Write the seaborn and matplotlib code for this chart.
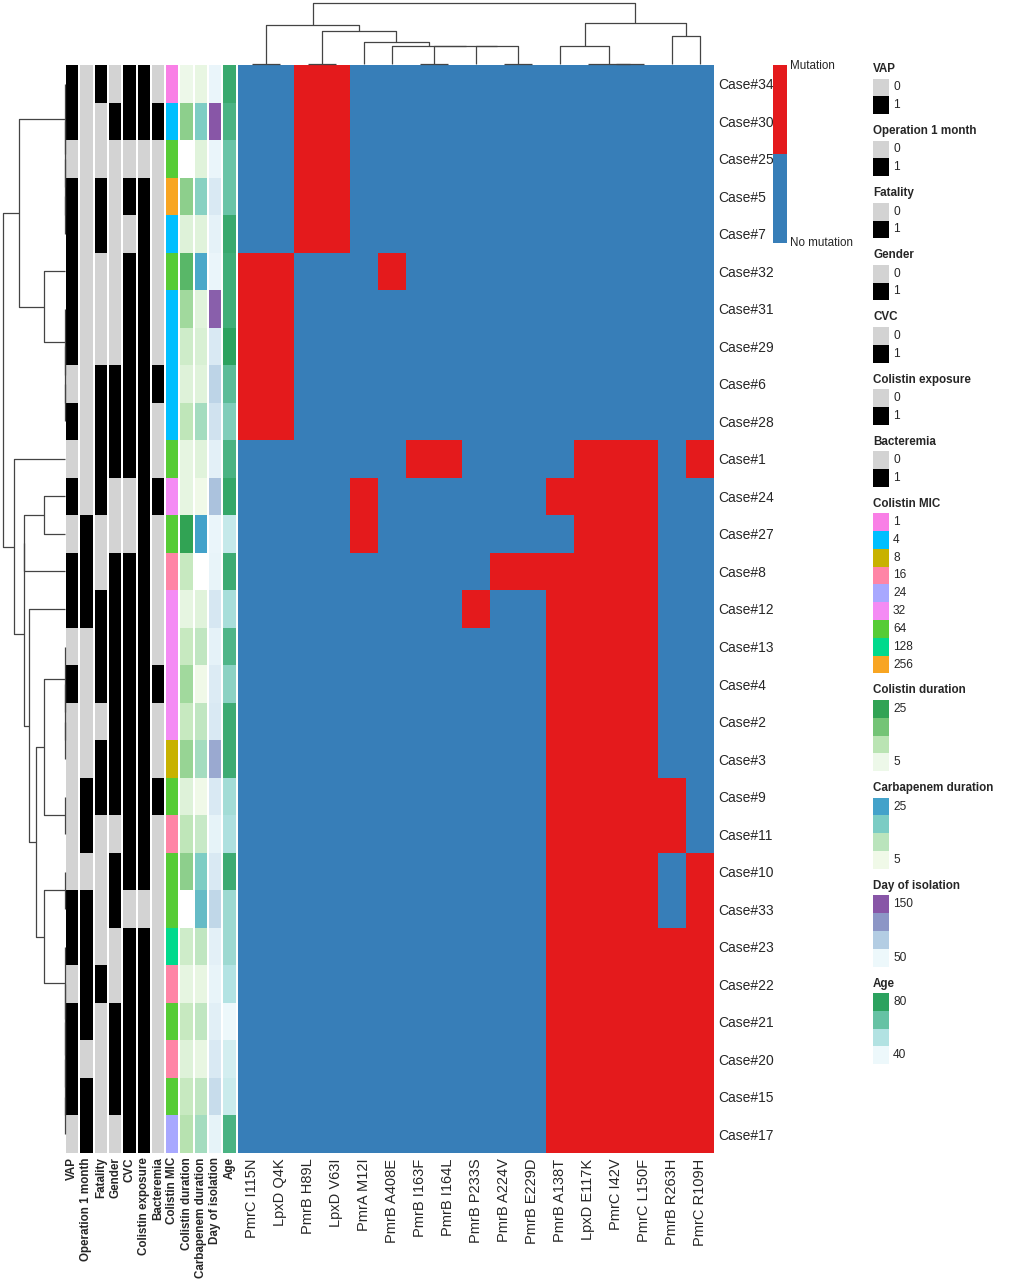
import numpy as np
import pandas as pd
import matplotlib
matplotlib.use("Agg")
import matplotlib.pyplot as plt
import seaborn as sns
from matplotlib.colors import ListedColormap, LinearSegmentedColormap
from matplotlib.patches import Rectangle

# ---------------- data ----------------
cases = ["Case#34", "Case#30", "Case#25", "Case#5", "Case#7", "Case#32", "Case#31",
         "Case#29", "Case#6", "Case#28", "Case#1", "Case#24", "Case#27", "Case#8",
         "Case#12", "Case#13", "Case#4", "Case#2", "Case#3", "Case#9", "Case#11",
         "Case#10", "Case#33", "Case#23", "Case#22", "Case#21", "Case#20", "Case#15",
         "Case#17"]
mutations = ["PmrC I115N", "LpxD Q4K", "PmrB H89L", "LpxD V63I", "PmrA M12I",
             "PmrB A408E", "PmrB I163F", "PmrB I164L", "PmrB P233S", "PmrB A224V",
             "PmrB E229D", "PmrB A138T", "LpxD E117K", "PmrC I42V", "PmrC L150F",
             "PmrB R263H", "PmrC R109H"]
# 1 = mutation, 0 = no mutation (one string per case, one char per mutation)
mutation_rows = [
    "00110000000000000", "00110000000000000", "00110000000000000",
    "00110000000000000", "00110000000000000",
    "11000100000000000",
    "11000000000000000", "11000000000000000", "11000000000000000", "11000000000000000",
    "00000011000011101",
    "00001000000111100",
    "00001000000011100",
    "00000000011111100",
    "00000000100111100",
    "00000000000111100", "00000000000111100", "00000000000111100", "00000000000111100",
    "00000000000111110", "00000000000111110",
    "00000000000111101", "00000000000111101",
    "00000000000111111", "00000000000111111", "00000000000111111",
    "00000000000111111", "00000000000111111", "00000000000111111",
]

vap = [1, 1, 0, 1, 1, 1, 1, 1, 0, 1, 0, 1, 0, 1, 1, 0, 1, 0, 0, 0, 0, 0, 1, 1, 0, 1, 1, 1, 0]
operation = [0, 0, 0, 0, 0, 0, 0, 0, 0, 0, 0, 0, 1, 1, 1, 0, 0, 0, 0, 1, 1, 0, 1, 1, 1, 1, 0, 1, 1]
fatality = [1, 0, 0, 1, 1, 0, 0, 0, 1, 1, 1, 1, 0, 0, 1, 1, 1, 0, 1, 1, 0, 0, 0, 0, 1, 0, 0, 0, 0]
gender = [0, 1, 0, 0, 0, 0, 0, 0, 1, 1, 1, 0, 0, 1, 1, 1, 1, 1, 1, 1, 0, 1, 1, 0, 0, 1, 1, 1, 0]
cvc = [1, 1, 0, 1, 0, 1, 1, 1, 1, 1, 1, 0, 0, 1, 1, 1, 1, 1, 1, 1, 1, 1, 0, 1, 1, 1, 1, 1, 1]
colistin_exposure = [1, 1, 0, 1, 1, 1, 1, 1, 1, 1, 1, 1, 1, 1, 1, 1, 1, 1, 1, 1, 1, 1, 0, 1, 1, 1, 1, 1, 1]
bacteremia = [0, 1, 0, 0, 0, 0, 0, 0, 1, 0, 0, 1, 0, 0, 0, 0, 1, 0, 0, 1, 0, 0, 0, 0, 0, 0, 0, 0, 0]
colistin_mic = [1, 4, 64, 256, 4, 64, 4, 4, 4, 4, 64, 32, 64, 16, 32, 32, 32, 32, 8, 64,
                16, 64, 64, 128, 16, 64, 16, 64, 24]
colistin_duration = [5, 16, np.nan, 16, 7, 21, 14, 9, 7, 11, 6, 6, 25, 10, 6, 10, 14, 10, 15,
                     7, 11, 16, np.nan, 9, 6, 10, 7, 10, 12]
carbapenem_duration = [6, 18, 7, 17, 7, 24, 7, 8, 7, 14, 7, 5, 25, np.nan, 7, 11, 5, 11, 14,
                       5, 10, 18, 21, 11, 6, 11, 6, 11, 14]
day_of_isolation = [52, 150, 52, 62, 55, 52, 145, 62, 78, 67, 56, 90, 52, 53, 63, 55, 60, 62,
                    105, 62, 54, 62, 76, 56, 53, 57, 62, 72, 54]
age = [77, 73, 66, 66, 77, 75, 75, 80, 69, 62, 73, 78, 49, 76, 55, 72, 60, 76, 76, 56, 54,
       76, 57, 57, 53, 40, 46, 48, 73]

mic_levels = [1, 4, 8, 16, 24, 32, 64, 128, 256]
mic_colors = ["#F97FE6", "#00BFFF", "#C8B200", "#FF85A6", "#A8A8FF", "#F48BF4",
              "#56CC35", "#00DA8C", "#F8A522"]

# dendrogram structure (leaf = display index); heights = complete linkage distances
row_tree = (((0, (1, (2, (3, 4)))), (5, (6, (7, (8, 9))))),
            (10, (((11, 12), 13),
                  (14, (((15, (16, (17, 18))), (19, 20)),
                        ((21, 22), (23, (24, (25, (26, (27, 28)))))))))))
col_tree = (((0, 1), ((2, 3), (4, (5, ((6, 7), (8, (9, 10))))))),
            ((11, (12, (13, 14))), (15, 16)))

# ---------------- style ----------------
sns.set_style("white")
plt.rcParams["font.family"] = ["Liberation Sans", "DejaVu Sans"]

W, H = 1024, 1280
fig = plt.figure(figsize=(W / 100, H / 100), dpi=100)


def px(x0, y0, x1, y1):
    return [x0 / W, 1 - y1 / H, (x1 - x0) / W, (y1 - y0) / H]


mat = np.array([[int(c) for c in r] for r in mutation_rows])
df = pd.DataFrame(mat, index=cases, columns=mutations)

TOP, BOT = 65, 1153
HX0, HX1 = 238, 714

# main heatmap
axh = fig.add_axes(px(HX0, TOP, HX1, BOT))
sns.heatmap(df, ax=axh, cmap=ListedColormap(["#377EB8", "#E41A1C"]), vmin=0, vmax=1,
            cbar=False, xticklabels=mutations, yticklabels=cases)
axh.yaxis.tick_right()
axh.set_yticklabels(cases, rotation=0, fontsize=10)
axh.set_xticklabels(mutations, rotation=90, fontsize=10.5)
axh.tick_params(axis="y", length=0, pad=3)
axh.tick_params(axis="x", length=0, pad=4)
axh.set_xlabel("")
axh.set_ylabel("")

# annotations
grey = "#D3D3D3"
bin_cmap = ListedColormap([grey, "black"])
cd_colors = ["#EDF8E9", "#BAE4B3", "#74C476", "#31A354"]
cb_colors = ["#F0F9E8", "#BAE4BC", "#7BCCC4", "#43A2CA"]
day_colors = ["#EDF8FB", "#B3CDE3", "#8C96C6", "#8856A7"]
age_colors = ["#EDF8FB", "#B2E2E2", "#66C2A4", "#2CA25F"]

annots = [
    ("VAP", vap, "bin"),
    ("Operation 1 month", operation, "bin"),
    ("Fatality", fatality, "bin"),
    ("Gender", gender, "bin"),
    ("CVC", cvc, "bin"),
    ("Colistin exposure", colistin_exposure, "bin"),
    ("Bacteremia", bacteremia, "bin"),
    ("Colistin MIC", colistin_mic, "mic"),
    ("Colistin duration", colistin_duration, ("cont", cd_colors, 5, 25)),
    ("Carbapenem duration", carbapenem_duration, ("cont", cb_colors, 5, 25)),
    ("Day of isolation", day_of_isolation, ("cont", day_colors, 50, 150)),
    ("Age", age, ("cont", age_colors, 40, 80)),
]

step, cw = 14.3, 12.3
for i, (name, vals, kind) in enumerate(annots):
    x0 = 66 + step * i
    ax = fig.add_axes(px(x0, TOP, x0 + cw, BOT))
    if kind == "bin":
        data = np.array(vals, float).reshape(-1, 1)
        sns.heatmap(data, ax=ax, cmap=bin_cmap, vmin=0, vmax=1, cbar=False,
                    xticklabels=[name], yticklabels=False)
    elif kind == "mic":
        data = np.array([mic_levels.index(v) for v in vals], float).reshape(-1, 1)
        sns.heatmap(data, ax=ax, cmap=ListedColormap(mic_colors), vmin=-0.5,
                    vmax=len(mic_levels) - 0.5, cbar=False,
                    xticklabels=[name], yticklabels=False)
    else:
        _, cols, lo, hi = kind
        cm = LinearSegmentedColormap.from_list(name, cols)
        data = np.array(vals, float).reshape(-1, 1)
        sns.heatmap(data, ax=ax, cmap=cm, vmin=lo, vmax=hi, cbar=False,
                    xticklabels=[name], yticklabels=False)
    ax.set_xticklabels([name], rotation=90, fontsize=8.4, fontweight="bold")
    ax.tick_params(length=0, pad=3)
    ax.set_ylabel("")


# dendrograms
def leaves(t):
    return [t] if isinstance(t, int) else leaves(t[0]) + leaves(t[1])


def draw_dend(ax, tree, X, orient):
    def rec(t):
        if isinstance(t, int):
            return t + 0.5, 0.0
        pl, hl = rec(t[0])
        pr, hr = rec(t[1])
        h = max(np.linalg.norm(X[a] - X[b]) for a in leaves(t[0]) for b in leaves(t[1]))
        if orient == "top":
            ax.plot([pl, pl, pr, pr], [hl, h, h, hr], color="#444444", lw=0.9,
                    clip_on=False, solid_capstyle="butt")
        else:
            ax.plot([hl, h, h, hr], [pl, pl, pr, pr], color="#444444", lw=0.9,
                    clip_on=False, solid_capstyle="butt")
        return (pl + pr) / 2, h
    return rec(tree)[1]


axt = fig.add_axes(px(HX0, 3, HX1, 64))
root_c = draw_dend(axt, col_tree, mat.T.astype(float), "top")
axt.set_xlim(0, len(mutations))
axt.set_ylim(0, root_c)
axt.axis("off")

axl = fig.add_axes(px(3, TOP, 65, BOT))
root_r = draw_dend(axl, row_tree, mat.astype(float), "left")
axl.set_ylim(len(cases), 0)
axl.set_xlim(root_r, 0)
axl.axis("off")

# legends (pixel coordinates)
axg = fig.add_axes([0, 0, 1, 1])
axg.set_xlim(0, W)
axg.set_ylim(H, 0)
axg.axis("off")

# mutation legend
axg.add_patch(Rectangle((773, 65), 14, 89, color="#E41A1C", lw=0))
axg.add_patch(Rectangle((773, 154), 14, 89, color="#377EB8", lw=0))
axg.text(790, 66, "Mutation", fontsize=8.4, va="center", ha="left")
axg.text(790, 243, "No mutation", fontsize=8.4, va="center", ha="left")

LX, BW, BH = 873, 16, 17.8
y = 69
for name, vals, kind in annots:
    axg.text(LX, y, name, fontsize=8.4, fontweight="bold", va="center", ha="left")
    top = y + 9.5
    if kind == "bin":
        items = [("0", grey), ("1", "black")]
        for j, (lab, col) in enumerate(items):
            axg.add_patch(Rectangle((LX, top + j * BH), BW, BH, color=col, lw=0))
            axg.text(LX + 20, top + (j + 0.5) * BH, lab, fontsize=8.6, va="center")
        n = 2
    elif kind == "mic":
        for j, (lev, col) in enumerate(zip(mic_levels, mic_colors)):
            axg.add_patch(Rectangle((LX, top + j * BH), BW, BH, color=col, lw=0))
            axg.text(LX + 20, top + (j + 0.5) * BH, str(lev), fontsize=8.6, va="center")
        n = len(mic_levels)
    else:
        _, cols, lo, hi = kind
        for j, col in enumerate(cols[::-1]):
            axg.add_patch(Rectangle((LX, top + j * BH), BW, BH, color=col, lw=0))
        axg.text(LX + 20, top + 0.5 * BH, str(hi), fontsize=8.6, va="center")
        axg.text(LX + 20, top + 3.5 * BH, str(lo), fontsize=8.6, va="center")
        n = 4
    y = top + n * BH + 17

fig.savefig("out.png", dpi=100)
